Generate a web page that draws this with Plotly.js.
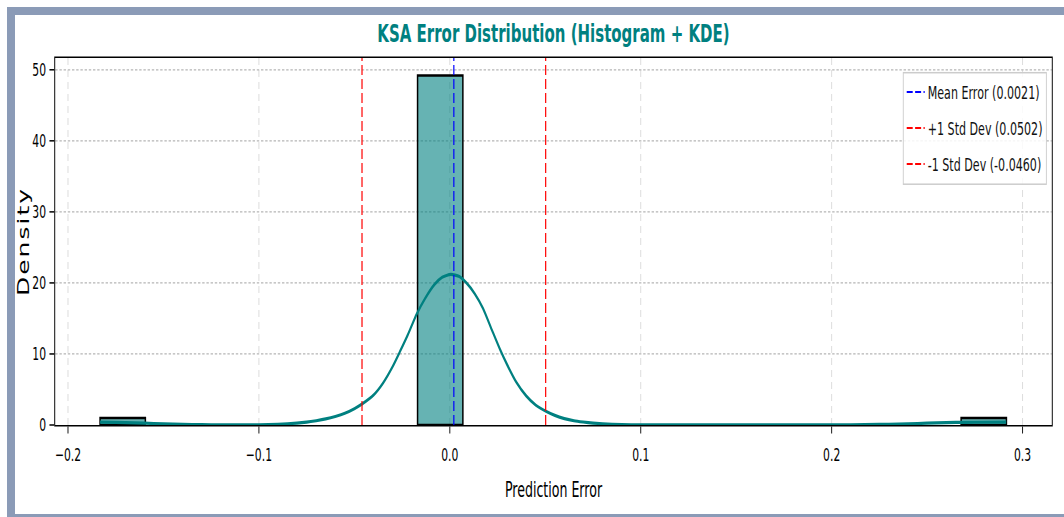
<!DOCTYPE html>
<html>
<head>
<meta charset="utf-8">
<script src="https://cdn.plot.ly/plotly-3.0.1.min.js"></script>
<style>
  html, body { margin: 0; padding: 0; width: 1064px; height: 517px; overflow: hidden; background: #ffffff; }
  #frame { position: absolute; left: 7px; top: 7px; width: 1100px; height: 499px;
           border-left: 8px solid #8b9bb7; border-top: 8px solid #8b9bb7; border-bottom: 8px solid #8b9bb7;
           background: #ffffff; overflow: hidden; }
  #chart { position: absolute; left: 0; top: 0; transform: scaleX(0.6); transform-origin: 0 0; }
  #chart .ytitle { letter-spacing: 2px; }
</style>
</head>
<body>
<div id="frame"><div id="chart"></div></div>
<script>
// ---- data ----
const binLefts   = [-0.1832, -0.0169, 0.2678];
const binWidth   = 0.02373;
const binHeights = [1, 49.2, 1];

const kdeX = [-0.1832, -0.175, -0.165, -0.155, -0.145, -0.135, -0.125, -0.115, -0.105, -0.095,
              -0.085, -0.075, -0.07, -0.065, -0.06, -0.055, -0.05, -0.046, -0.04, -0.035,
              -0.03, -0.026, -0.022, -0.0174, -0.013, -0.008, -0.004, 0.0005, 0.005, 0.0087,
              0.013, 0.0174, 0.022, 0.0262, 0.03, 0.0349, 0.04, 0.045, 0.0506, 0.055,
              0.06, 0.065, 0.0698, 0.075, 0.085, 0.095, 0.11, 0.13, 0.15, 0.17,
              0.19, 0.21, 0.225, 0.235, 0.245, 0.255, 0.265, 0.275, 0.2914];
const kdeY = [0.40, 0.37, 0.30, 0.21, 0.13, 0.07, 0.03, 0.015, 0.02, 0.06,
              0.17, 0.40, 0.6, 0.85, 1.2, 1.65, 2.3, 2.95, 4.2, 5.9,
              8.2, 10.4, 12.7, 15.6, 17.8, 19.8, 20.8, 21.2, 20.9, 20.0,
              18.5, 16.4, 13.4, 10.7, 8.5, 6.0, 4.1, 2.8, 1.9, 1.35,
              0.9, 0.6, 0.42, 0.27, 0.1, 0.035, 0.01, 0.005, 0.005, 0.005,
              0.01, 0.03, 0.08, 0.14, 0.21, 0.30, 0.36, 0.39, 0.40];

const refNames  = ['Mean Error (0.0021)', '+1 Std Dev (0.0502)', '-1 Std Dev (-0.0460)'];
const refValues = [0.0021, 0.0502, -0.0460];
const refColors = ['blue', 'red', 'red'];

const xTickVals = [-0.2, -0.1, 0.0, 0.1, 0.2, 0.3];
const xTickText = ['\u22120.2', '\u22120.1', '0.0', '0.1', '0.2', '0.3'];
const yTickVals = [0, 10, 20, 30, 40, 50];
const yTickText = ['0', '10', '20', '30', '40', '50'];

const xRange = [-0.2067, 0.3153];
const yRange = [0, 51.66];

// ---- layout geometry (pre-scale pixels, chart is squeezed horizontally by 0.6) ----
const S = 0.6;
const W = 1070 / S;
const H = 499;
const FONT = 'DejaVu Sans, Verdana, sans-serif';

const traces = [];
traces.push({
  type: 'bar', x: binLefts, y: binHeights, width: binLefts.map(() => binWidth), offset: 0,
  marker: { color: 'rgba(0,128,128,0.6)', line: { color: '#000000', width: 2.5 } },
  showlegend: false, hoverinfo: 'skip'
});
traces.push({
  type: 'scatter', mode: 'lines', x: kdeX, y: kdeY, line: { color: '#008080', width: 3.2, shape: 'spline', smoothing: 0.6 },
  showlegend: false, hoverinfo: 'skip'
});
refValues.forEach((v, i) => {
  traces.push({
    type: 'scatter', mode: 'lines', x: [v, v], y: yRange, name: refNames[i],
    legendgroup: 'g' + i,
    line: { color: refColors[i], width: 2, dash: '10px,4px' }
  });
});

const layout = {
  width: W, height: H,
  margin: { l: 40 / S, r: W - 40 / S - 997 / S, t: 43, b: 89 },
  paper_bgcolor: '#ffffff', plot_bgcolor: '#ffffff',
  font: { family: FONT, color: '#000000', size: 18 },
  title: { text: 'KSA Error Distribution (Histogram + KDE)', x: 0.5, xref: 'paper', y: 1 - 18 / H, yref: 'container',
           yanchor: 'middle', font: { family: FONT, size: 25, color: '#008080', weight: 'bold' } },
  bargap: 0,
  xaxis: {
    range: xRange, tickvals: xTickVals, ticktext: xTickText, ticks: 'outside', ticklen: 7, tickwidth: 1.5, tickcolor: '#000',
    ticklabelstandoff: 6,
    showline: true, mirror: true, linecolor: '#000', linewidth: 1.6, zeroline: false,
    showgrid: true, gridcolor: '#d9d9d9', griddash: '7px,5px', gridwidth: 1.5,
    tickfont: { size: 18, family: FONT, color: '#000' },
    title: { text: 'Prediction Error', standoff: 18, font: { size: 21, family: FONT, color: '#000' } }
  },
  yaxis: {
    range: yRange, tickvals: yTickVals, ticktext: yTickText, ticks: 'outside', ticklen: 8, tickwidth: 1.5, tickcolor: '#000',
    ticklabelstandoff: 2,
    showline: true, mirror: true, linecolor: '#000', linewidth: 1.6, zeroline: false,
    showgrid: true, gridcolor: '#b5b5b5', griddash: '4px,3px', gridwidth: 1.3,
    tickfont: { size: 18, family: FONT, color: '#000' },
    title: { text: 'Density', standoff: 19, font: { size: 25, family: FONT, color: '#000' } }
  },
  legend: {
    x: 0.995, xanchor: 'right', y: 0.962, yanchor: 'top', xref: 'paper', yref: 'paper',
    bgcolor: 'rgba(255,255,255,0.85)', bordercolor: '#cccccc', borderwidth: 1.5,
    font: { size: 18.5, family: FONT, color: '#111' }, tracegroupgap: 9, traceorder: 'grouped', itemwidth: 30
  },
  showlegend: true
};

Plotly.newPlot('chart', traces, layout, { displayModeBar: false, staticPlot: true });
</script>
</body>
</html>
